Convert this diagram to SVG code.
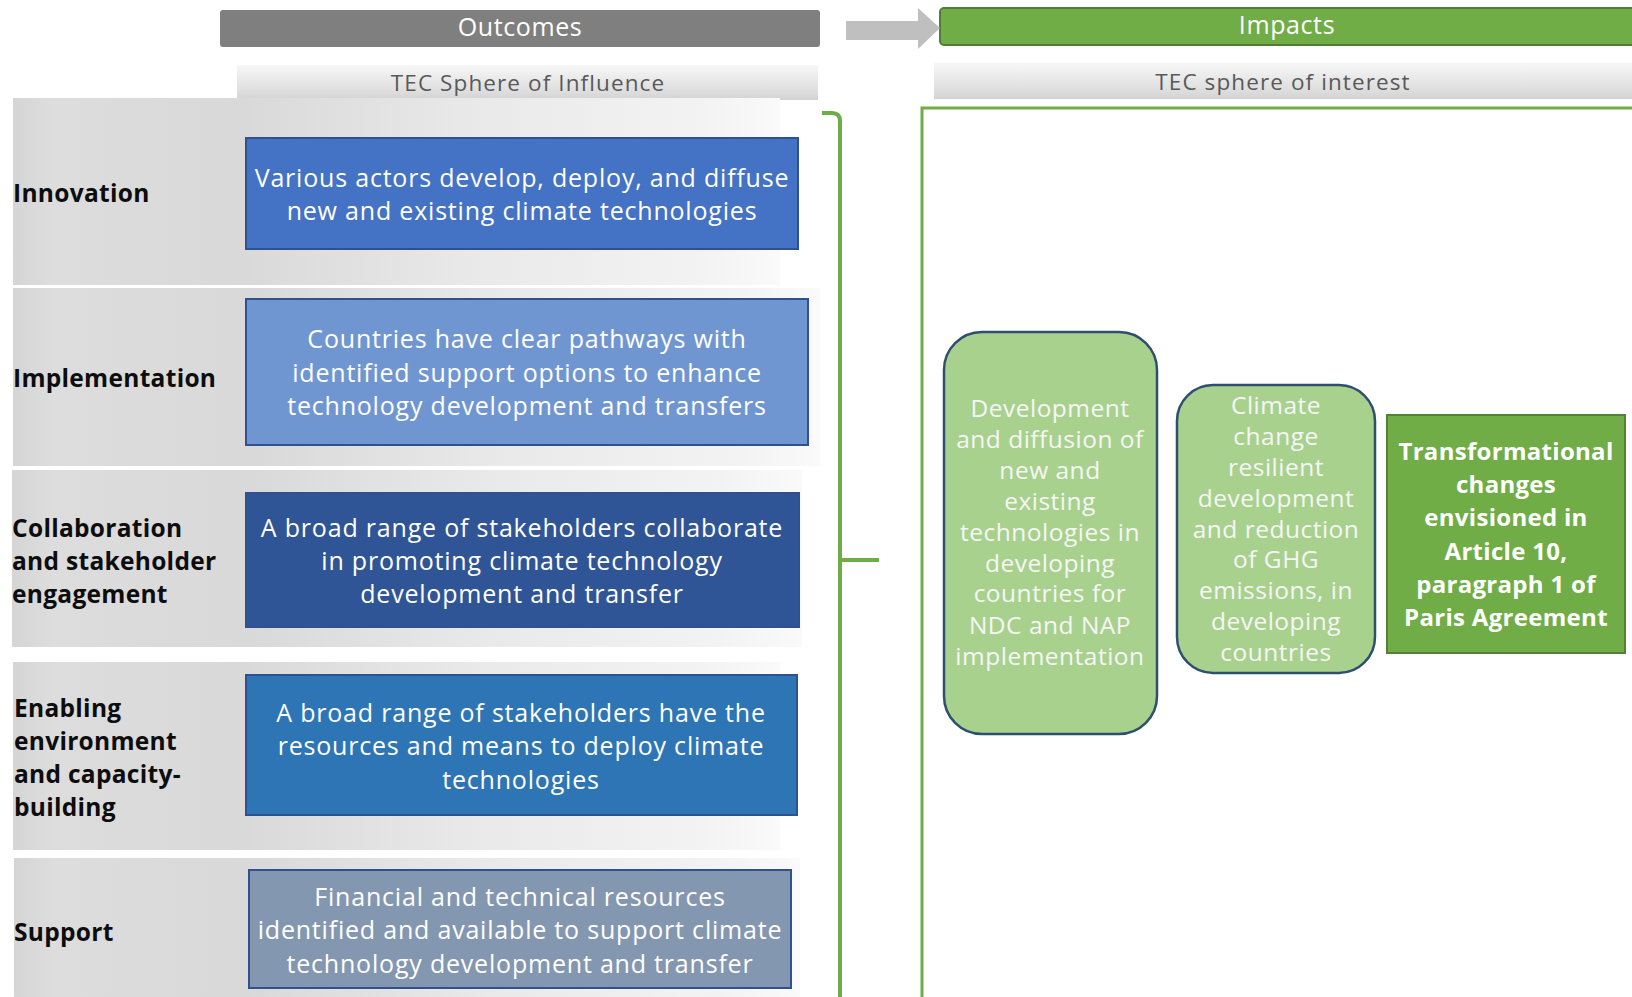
<svg xmlns="http://www.w3.org/2000/svg" width="1632" height="997" viewBox="0 0 1632 997">
<defs>
<linearGradient id="rowGrad" x1="0" y1="0" x2="1" y2="0">
<stop offset="0" stop-color="#D5D5D5"/>
<stop offset="0.05" stop-color="#DDDDDD"/>
<stop offset="0.15" stop-color="#DBDBDB"/>
<stop offset="0.3" stop-color="#D9D9D9"/>
<stop offset="0.6" stop-color="#E9E9E9"/>
<stop offset="0.9" stop-color="#F3F3F3"/>
<stop offset="1" stop-color="#FAFAFA"/>
</linearGradient>
<linearGradient id="bandGrad" x1="0" y1="0" x2="0" y2="1">
<stop offset="0" stop-color="#F7F7F7"/>
<stop offset="0.8" stop-color="#DCDCDC"/>
<stop offset="1" stop-color="#D2D2D2"/>
</linearGradient>
<style>
.lbl{font-family:"Open Sans","Noto Sans",sans-serif;font-weight:bold;font-size:24.5px;letter-spacing:0.3px;fill:#0D0D0D}
.bt{font-family:"Open Sans","Noto Sans",sans-serif;font-size:25px;letter-spacing:0.8px;fill:#FFFFFF;text-anchor:middle}
.gt{font-family:"Open Sans","Noto Sans",sans-serif;font-size:24.5px;letter-spacing:0.5px;fill:#F6F6F6;text-anchor:middle}
.gb{font-family:"Open Sans","Noto Sans",sans-serif;font-size:24px;letter-spacing:0.3px;font-weight:bold;fill:#FFFFFF;text-anchor:middle}
.hd{font-family:"Open Sans","Noto Sans",sans-serif;font-size:25px;letter-spacing:0.6px;fill:#FFFFFF;text-anchor:middle}
.sp{font-family:"Open Sans","Noto Sans",sans-serif;font-size:22.5px;letter-spacing:1.1px;fill:#595959;text-anchor:middle}
.bx{stroke:#2F528F;stroke-width:2}
.lg{fill:#A9D18E;stroke:#2F4F6F;stroke-width:2.5}
.row{fill:url(#rowGrad)}
.band{fill:url(#bandGrad)}
.conn{fill:none;stroke:#70AD47;stroke-width:4}
</style>
</defs>
<rect x="0" y="0" width="1632" height="997" fill="#FFFFFF"/>

<g id="header-outcomes">
<rect x="220" y="10" width="600" height="37" rx="3" fill="#7F7F7F"/>
<text class="hd" x="520" y="36">Outcomes</text>
</g>
<g id="header-impacts">
<rect x="940" y="8" width="720" height="37" rx="4" fill="#70AD47" stroke="#507E32" stroke-width="2"/>
<text class="hd" x="1287" y="34">Impacts</text>
</g>
<g id="sphere-influence">
<rect class="band" x="237" y="65" width="581" height="35"/>
<text class="sp" x="528" y="91">TEC Sphere of Influence</text>
</g>
<g id="sphere-interest">
<rect class="band" x="934" y="63" width="720" height="36"/>
<text class="sp" x="1283" y="90">TEC sphere of interest</text>
</g>

<g id="impact-frame">
<rect x="922" y="108" width="760" height="960" fill="#FFFFFF" stroke="#70AD47" stroke-width="3"/>
</g>

<g id="row-innovation">
<rect class="row" x="13" y="98" width="767" height="187"/>
<text class="lbl" x="13" y="202">Innovation</text>
<rect class="bx" x="246" y="138" width="552" height="111" fill="#4472C4"/>
<text class="bt" x="522" y="187">Various actors develop, deploy, and diffuse</text>
<text class="bt" x="522" y="220">new and existing climate technologies</text>
</g>

<g id="row-implementation">
<rect class="row" x="13" y="288" width="807" height="178"/>
<text class="lbl" x="13" y="387">Implementation</text>
<rect class="bx" x="246" y="299" width="562" height="146" fill="#7096D1"/>
<text class="bt" x="527" y="348">Countries have clear pathways with</text>
<text class="bt" x="527" y="382">identified support options to enhance</text>
<text class="bt" x="527" y="415">technology development and transfers</text>
</g>

<g id="row-collaboration">
<rect class="row" x="12" y="470" width="790" height="177"/>
<text class="lbl" x="12" y="537">Collaboration</text>
<text class="lbl" x="12" y="570">and stakeholder</text>
<text class="lbl" x="12" y="603">engagement</text>
<rect class="bx" x="246" y="493" width="553" height="134" fill="#2F5597"/>
<text class="bt" x="522" y="537">A broad range of stakeholders collaborate</text>
<text class="bt" x="522" y="570">in promoting climate technology</text>
<text class="bt" x="522" y="603">development and transfer</text>
</g>

<g id="row-enabling">
<rect class="row" x="13" y="662" width="767" height="188"/>
<text class="lbl" x="14" y="717">Enabling</text>
<text class="lbl" x="14" y="750">environment</text>
<text class="lbl" x="14" y="783">and capacity-</text>
<text class="lbl" x="14" y="816">building</text>
<rect class="bx" x="246" y="675" width="551" height="140" fill="#2E75B6"/>
<text class="bt" x="521" y="722">A broad range of stakeholders have the</text>
<text class="bt" x="521" y="755">resources and means to deploy climate</text>
<text class="bt" x="521" y="789">technologies</text>
</g>

<g id="row-support">
<rect class="row" x="14" y="858" width="786" height="139"/>
<text class="lbl" x="14" y="941">Support</text>
<rect class="bx" x="249" y="870" width="542" height="118" fill="#8497B0"/>
<text class="bt" x="520" y="906">Financial and technical resources</text>
<text class="bt" x="520" y="939">identified and available to support climate</text>
<text class="bt" x="520" y="973">technology development and transfer</text>
</g>

<g id="impact-development">
<rect class="lg" x="944" y="332" width="213" height="402" rx="38"/>
<text class="gt" x="1050" y="417">Development</text>
<text class="gt" x="1050" y="448">and diffusion of</text>
<text class="gt" x="1050" y="479">new and</text>
<text class="gt" x="1050" y="510">existing</text>
<text class="gt" x="1050" y="541">technologies in</text>
<text class="gt" x="1050" y="572">developing</text>
<text class="gt" x="1050" y="602">countries for</text>
<text class="gt" x="1050" y="634">NDC and NAP</text>
<text class="gt" x="1050" y="665">implementation</text>
</g>

<g id="impact-resilient">
<rect class="lg" x="1177" y="385" width="198" height="288" rx="36"/>
<text class="gt" x="1276" y="414">Climate</text>
<text class="gt" x="1276" y="445">change</text>
<text class="gt" x="1276" y="476">resilient</text>
<text class="gt" x="1276" y="507">development</text>
<text class="gt" x="1276" y="538">and reduction</text>
<text class="gt" x="1276" y="568">of GHG</text>
<text class="gt" x="1276" y="599">emissions, in</text>
<text class="gt" x="1276" y="630">developing</text>
<text class="gt" x="1276" y="661">countries</text>
</g>

<g id="impact-transformational">
<rect x="1387" y="415" width="238" height="238" fill="#70AD47" stroke="#548235" stroke-width="2"/>
<text class="gb" x="1506" y="460">Transformational</text>
<text class="gb" x="1506" y="493">changes</text>
<text class="gb" x="1506" y="526">envisioned in</text>
<text class="gb" x="1506" y="560">Article 10,</text>
<text class="gb" x="1506" y="593">paragraph  1 of</text>
<text class="gb" x="1506" y="626">Paris Agreement</text>
</g>

<g id="connectors">
<path d="M846 21 L918 21 L918 8 L940 28 L918 49 L918 40 L846 40 Z" fill="#BFBFBF"/>
<path class="conn" d="M822 113 L832 113 Q840 113 840 121 L840 1000"/>
<path class="conn" d="M840 560 L879 560"/>
</g>
</svg>
